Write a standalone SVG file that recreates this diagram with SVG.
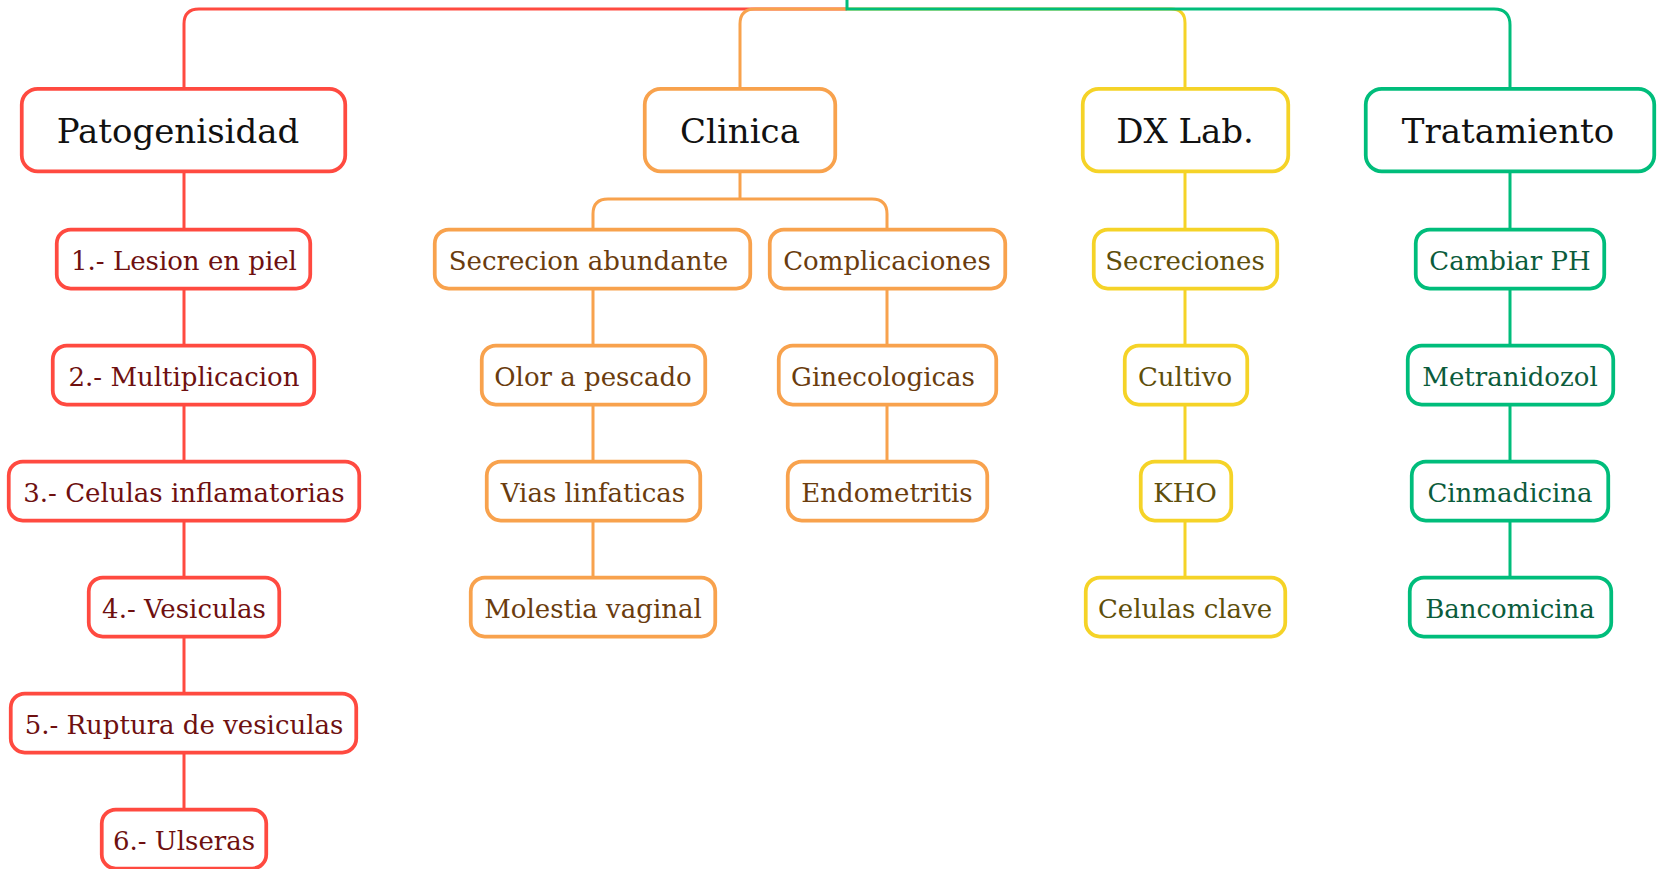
<svg xmlns="http://www.w3.org/2000/svg" width="1663" height="869" viewBox="0 0 1663 869">
<style>
.bg{fill:#ffffff}
.ln{fill:none;stroke-width:3;stroke-linecap:butt}
.box{fill:#ffffff;stroke-width:3.75}
.t{font-family:"DejaVu Serif","Liberation Serif",serif;text-anchor:middle}
.tt{font-size:34px;fill:#111111}
.ct{font-size:26px}
.r{stroke:#FF4A40}
.o{stroke:#F8A24D}
.y{stroke:#F5D327}
.g{stroke:#00BD7B}
.rt{fill:#6E1010}
.ot{fill:#6A3C0E}
.yt{fill:#5E4E0B}
.gt{fill:#0B5C3C}
</style>
<rect class="bg" x="0" y="0" width="1663" height="869"/>
<g id="connectors">
  <path class="ln r" d="M847,9 H199 Q184,9 184,24 V88"/>
  <path class="ln o" d="M847,9 H755 Q740,9 740,24 V88"/>
  <path class="ln y" d="M847,9 H1171 Q1185,9 1185,23 V88"/>
  <path class="ln g" d="M847,0 V9 H1494 Q1510,9 1510,25 V88"/>
  <path class="ln r" d="M184,172 V230 M184,288 V346 M184,404 V462 M184,520 V578 M184,636 V694 M184,752 V810"/>
  <path class="ln o" d="M740,172 V199"/>
  <path class="ln o" d="M740,199 H608 Q593,199 593,214 V230"/>
  <path class="ln o" d="M740,199 H872 Q887,199 887,214 V230"/>
  <path class="ln o" d="M593,288 V346 M593,404 V462 M593,520 V578"/>
  <path class="ln o" d="M887,288 V346 M887,404 V462"/>
  <path class="ln y" d="M1185,172 V230 M1185,288 V346 M1185,404 V462 M1185,520 V578"/>
  <path class="ln g" d="M1510,172 V230 M1510,288 V346 M1510,404 V462 M1510,520 V578"/>
</g>
<g id="n-patogenisidad"><rect class="box r" x="21.75" y="88.75" width="323.5" height="82.5" rx="16"/><text class="t tt" x="178" y="143">Patogenisidad</text></g>
<g id="n-clinica"><rect class="box o" x="644.75" y="88.75" width="190.5" height="82.5" rx="16"/><text class="t tt" x="740" y="143">Clinica</text></g>
<g id="n-dxlab"><rect class="box y" x="1082.75" y="88.75" width="205.5" height="82.5" rx="16"/><text class="t tt" x="1185" y="143">DX Lab.</text></g>
<g id="n-tratamiento"><rect class="box g" x="1365.75" y="88.75" width="288.5" height="82.5" rx="16"/><text class="t tt" x="1508" y="143">Tratamiento</text></g>

<g id="n-lesion"><rect class="box r" x="56.75" y="229.5" width="253.5" height="59" rx="14"/><text class="t ct rt" x="184" y="270">1.- Lesion en piel</text></g>
<g id="n-multiplicacion"><rect class="box r" x="52.75" y="345.5" width="261.5" height="59" rx="14"/><text class="t ct rt" x="184" y="386">2.- Multiplicacion</text></g>
<g id="n-celulas-inflamatorias"><rect class="box r" x="8.75" y="461.5" width="350.5" height="59" rx="14"/><text class="t ct rt" x="184" y="502">3.- Celulas inflamatorias</text></g>
<g id="n-vesiculas"><rect class="box r" x="88.75" y="577.5" width="190.5" height="59" rx="14"/><text class="t ct rt" x="184" y="618">4.- Vesiculas</text></g>
<g id="n-ruptura"><rect class="box r" x="10.75" y="693.5" width="345.5" height="59" rx="14"/><text class="t ct rt" x="184" y="734">5.- Ruptura de vesiculas</text></g>
<g id="n-ulseras"><rect class="box r" x="101.75" y="809.5" width="164.5" height="59" rx="14"/><text class="t ct rt" x="184" y="850">6.- Ulseras</text></g>

<g id="n-secrecion"><rect class="box o" x="434.75" y="229.5" width="315.5" height="59" rx="14"/><text class="t ct ot" x="588.5" y="270">Secrecion abundante</text></g>
<g id="n-complicaciones"><rect class="box o" x="769.75" y="229.5" width="235.5" height="59" rx="14"/><text class="t ct ot" x="887" y="270">Complicaciones</text></g>
<g id="n-olor"><rect class="box o" x="481.75" y="345.5" width="223.5" height="59" rx="14"/><text class="t ct ot" x="593" y="386">Olor a pescado</text></g>
<g id="n-ginecologicas"><rect class="box o" x="778.75" y="345.5" width="217.5" height="59" rx="14"/><text class="t ct ot" x="883" y="386">Ginecologicas</text></g>
<g id="n-vias"><rect class="box o" x="486.75" y="461.5" width="213.5" height="59" rx="14"/><text class="t ct ot" x="593" y="502">Vias linfaticas</text></g>
<g id="n-endometritis"><rect class="box o" x="787.75" y="461.5" width="199.5" height="59" rx="14"/><text class="t ct ot" x="887" y="502">Endometritis</text></g>
<g id="n-molestia"><rect class="box o" x="470.75" y="577.5" width="244.5" height="59" rx="14"/><text class="t ct ot" x="593" y="618">Molestia vaginal</text></g>

<g id="n-secreciones"><rect class="box y" x="1093.75" y="229.5" width="183.5" height="59" rx="14"/><text class="t ct yt" x="1185" y="270">Secreciones</text></g>
<g id="n-cultivo"><rect class="box y" x="1124.75" y="345.5" width="122.5" height="59" rx="14"/><text class="t ct yt" x="1185" y="386">Cultivo</text></g>
<g id="n-kho"><rect class="box y" x="1140.75" y="461.5" width="90.5" height="59" rx="14"/><text class="t ct yt" x="1185" y="502">KHO</text></g>
<g id="n-celulas-clave"><rect class="box y" x="1085.75" y="577.5" width="199.5" height="59" rx="14"/><text class="t ct yt" x="1185" y="618">Celulas clave</text></g>

<g id="n-cambiar"><rect class="box g" x="1415.75" y="229.5" width="188.5" height="59" rx="14"/><text class="t ct gt" x="1510" y="270">Cambiar PH</text></g>
<g id="n-metranidozol"><rect class="box g" x="1407.75" y="345.5" width="205.5" height="59" rx="14"/><text class="t ct gt" x="1510" y="386">Metranidozol</text></g>
<g id="n-cinmadicina"><rect class="box g" x="1411.75" y="461.5" width="196.5" height="59" rx="14"/><text class="t ct gt" x="1510" y="502">Cinmadicina</text></g>
<g id="n-bancomicina"><rect class="box g" x="1409.75" y="577.5" width="201.5" height="59" rx="14"/><text class="t ct gt" x="1510" y="618">Bancomicina</text></g>
</svg>
